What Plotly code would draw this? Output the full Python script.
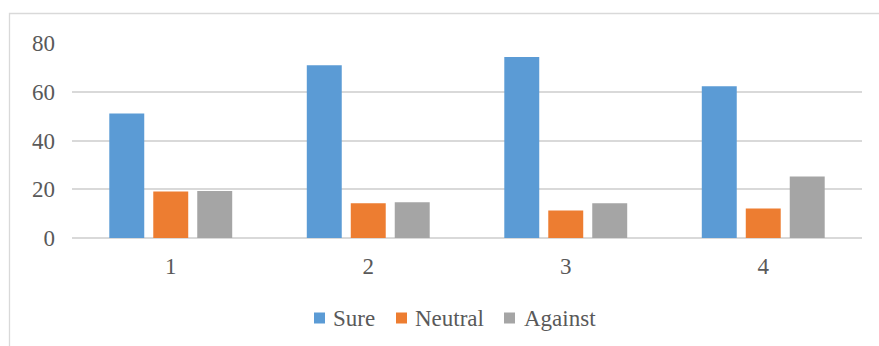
import plotly.graph_objects as go

# Survey responses per question
categories = ["1", "2", "3", "4"]
series_names = ["Sure", "Neutral", "Against"]
sure = [51.1, 70.9, 74.3, 62.3]
neutral = [19.1, 14.3, 11.3, 12.1]
against = [19.3, 14.7, 14.3, 25.2]
colors = ["#5B9BD5", "#ED7D31", "#A5A5A5"]
y_ticks = [0, 20, 40, 60, 80]

W, H = 879, 346
ML, MR, MT, MB = 72, 17, 43, 108
PW, PH = W - ML - MR, H - MT - MB

FONT = "Liberation Serif"
TEXT = "#595959"
GRID = "#D9D9D9"
FS = 23


def px_x(px):
    return (px - ML) / PW


def px_y(py):
    return (H - MB - py) / PH


fig = go.Figure()
for name, vals, col in zip(series_names, [sure, neutral, against], colors):
    fig.add_trace(go.Bar(x=categories, y=vals, name=name, marker_color=col,
                         marker_line_width=0))

# outer chart frame
shapes = [dict(type="rect", xref="paper", yref="paper",
               x0=px_x(9.5), x1=px_x(890), y0=px_y(360), y1=px_y(13.5),
               line=dict(color=GRID, width=1.3), fillcolor="rgba(0,0,0,0)",
               layer="below")]

# legend: square swatch followed by the series name
legend_sq_left = [314, 396, 504]
legend_text_left = [331, 413, 522]
legend_cy = 318
annotations = []
for name, col, sx, tx in zip(series_names, colors, legend_sq_left, legend_text_left):
    shapes.append(dict(type="rect", xref="paper", yref="paper",
                       x0=px_x(sx), x1=px_x(sx + 11),
                       y0=px_y(legend_cy + 5.5), y1=px_y(legend_cy - 5.5),
                       line=dict(width=0), fillcolor=col))
    annotations.append(dict(text=name, xref="paper", yref="paper",
                            x=px_x(tx), y=px_y(legend_cy), xanchor="left",
                            yanchor="middle", showarrow=False,
                            font=dict(family=FONT, size=FS, color=TEXT)))

fig.update_layout(
    width=W, height=H,
    margin=dict(l=ML, r=MR, t=MT, b=MB),
    paper_bgcolor="white", plot_bgcolor="white",
    barmode="group", bargap=0.332, bargroupgap=0.205,
    showlegend=False,
    font=dict(family=FONT, size=FS, color=TEXT),
    shapes=shapes, annotations=annotations,
    xaxis=dict(type="category", showgrid=False, zeroline=False,
               showline=False, ticks="", ticklabelstandoff=12,
               tickfont=dict(family=FONT, size=FS, color=TEXT)),
    yaxis=dict(range=[0, 80], tickvals=y_ticks, showgrid=True,
               gridcolor=GRID, gridwidth=1.5, zeroline=True,
               zerolinecolor=GRID, zerolinewidth=1.5, showline=False,
               ticks="", ticklabelstandoff=16,
               tickfont=dict(family=FONT, size=FS, color=TEXT)),
)

fig.write_html("out.html")
